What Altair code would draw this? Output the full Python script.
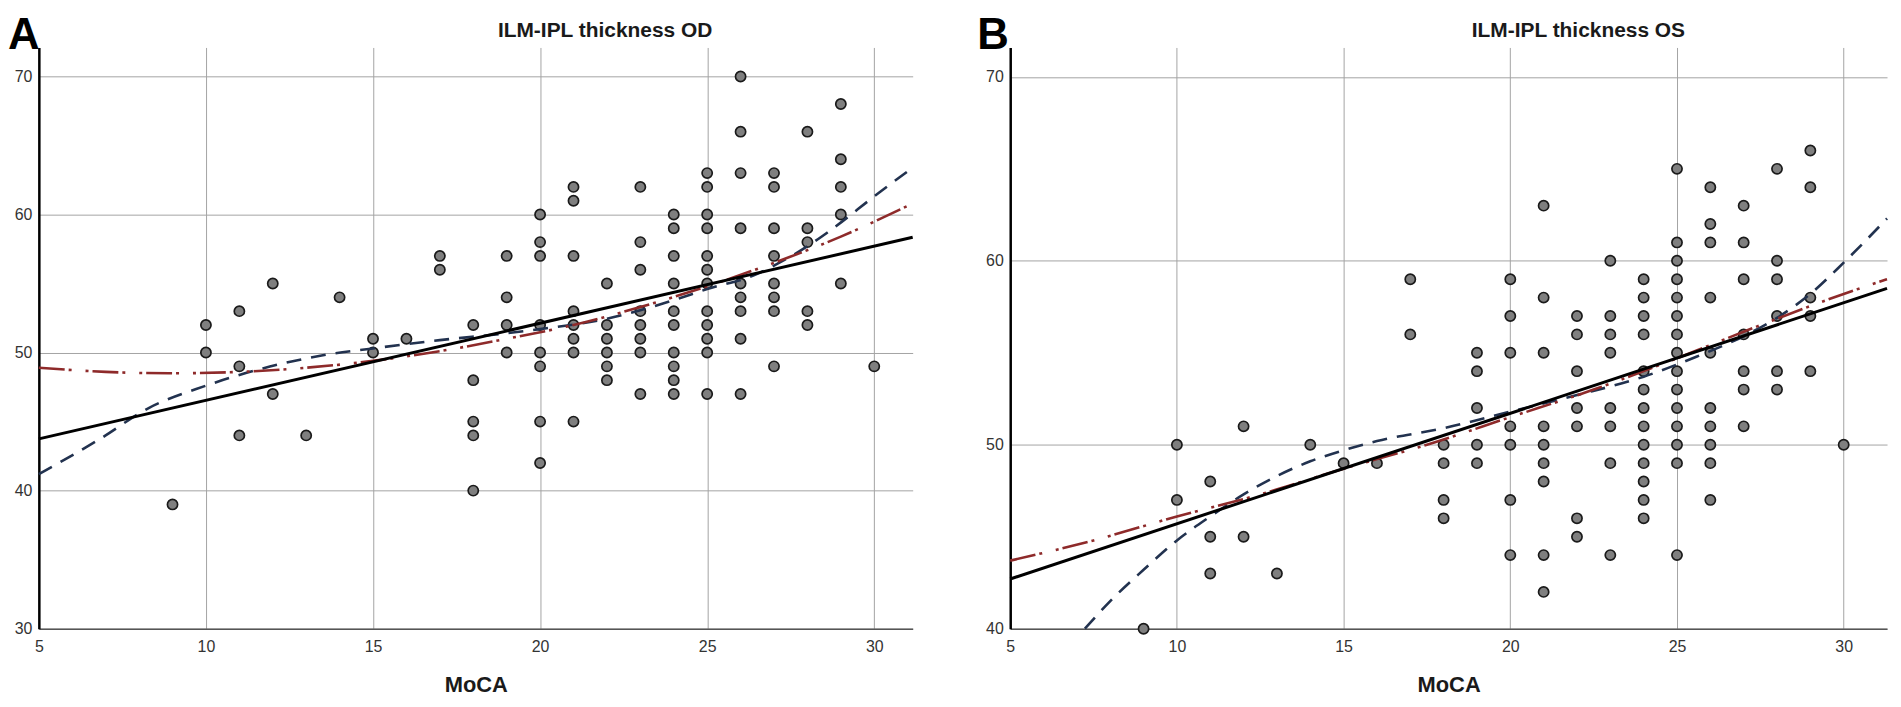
import altair as alt
import pandas as pd

FONT = "Liberation Sans"

# ---------- Panel A : ILM-IPL thickness OD ----------
od_moca = [9,
           10, 10,
           11, 11, 11,
           12, 12,
           13,
           14,
           15, 15,
           16,
           17, 17,
           18, 18, 18, 18, 18,
           19, 19, 19, 19,
           20, 20, 20, 20, 20, 20, 20, 20,
           21, 21, 21, 21, 21, 21, 21, 21,
           22, 22, 22, 22, 22, 22,
           23, 23, 23, 23, 23, 23, 23, 23,
           24, 24, 24, 24, 24, 24, 24, 24, 24, 24,
           25, 25, 25, 25, 25, 25, 25, 25, 25, 25, 25, 25,
           26, 26, 26, 26, 26, 26, 26, 26, 26,
           27, 27, 27, 27, 27, 27, 27, 27,
           28, 28, 28, 28, 28,
           29, 29, 29, 29, 29,
           30]
od_thick = [39,
            52, 50,
            53, 49, 44,
            55, 47,
            44,
            54,
            51, 50,
            51,
            57, 56,
            52, 48, 45, 44, 40,
            57, 54, 52, 50,
            60, 58, 57, 52, 50, 49, 45, 42,
            62, 61, 57, 53, 52, 51, 50, 45,
            55, 52, 51, 50, 49, 48,
            62, 58, 56, 53, 52, 51, 50, 47,
            60, 59, 57, 55, 53, 52, 50, 49, 48, 47,
            63, 62, 60, 59, 57, 56, 55, 53, 52, 51, 50, 47,
            70, 66, 63, 59, 55, 54, 53, 51, 47,
            63, 62, 59, 57, 55, 54, 53, 49,
            66, 59, 58, 53, 52,
            68, 64, 62, 60, 55,
            49]

# fit lines of panel A
od_lin_x = [5, 31.15]
od_lin_y = [43.75, 58.35]
od_quad_x = [5, 7, 9, 11, 13, 15, 17, 19, 21, 23, 25, 27, 29, 31.15]
od_quad_y = [48.9, 48.6, 48.5, 48.6, 48.9, 49.4, 50.1, 51.0, 52.0, 53.3, 54.8, 56.5, 58.4, 60.8]
od_cub_x = [5, 6.8, 8.3, 10, 11.7, 13.5, 15, 17, 19, 20, 22, 24, 25, 26.5, 27, 28, 28.6, 30.1, 31.15]
od_cub_y = [41.2, 43.7, 46.0, 47.6, 48.85, 49.8, 50.3, 50.9, 51.4, 51.7, 52.45, 53.8, 54.6, 55.7, 56.3, 57.7, 58.7, 61.5, 63.4]

# ---------- Panel B : ILM-IPL thickness OS ----------
os_moca = [9,
           10, 10,
           11, 11, 11,
           12, 12,
           13,
           14,
           15,
           16,
           17, 17,
           18, 18, 18, 18,
           19, 19, 19, 19, 19,
           20, 20, 20, 20, 20, 20, 20,
           21, 21, 21, 21, 21, 21, 21, 21, 21,
           22, 22, 22, 22, 22, 22, 22,
           23, 23, 23, 23, 23, 23, 23, 23,
           24, 24, 24, 24, 24, 24, 24, 24, 24, 24, 24, 24, 24,
           25, 25, 25, 25, 25, 25, 25, 25, 25, 25, 25, 25, 25, 25, 25,
           26, 26, 26, 26, 26, 26, 26, 26, 26, 26,
           27, 27, 27, 27, 27, 27, 27,
           28, 28, 28, 28, 28, 28,
           29, 29, 29, 29, 29,
           30]
os_thick = [40,
            50, 47,
            48, 45, 43,
            51, 45,
            43,
            50,
            49,
            49,
            59, 56,
            50, 49, 47, 46,
            55, 54, 52, 50, 49,
            59, 57, 55, 51, 50, 47, 44,
            63, 58, 55, 51, 50, 49, 48, 44, 42,
            57, 56, 54, 52, 51, 46, 45,
            60, 57, 56, 55, 52, 51, 49, 44,
            59, 58, 57, 56, 54, 53, 52, 51, 50, 49, 48, 47, 46,
            65, 61, 60, 59, 58, 57, 56, 55, 54, 53, 52, 51, 50, 49, 44,
            64, 62, 61, 58, 55, 52, 51, 50, 49, 47,
            63, 61, 59, 56, 54, 53, 51,
            65, 60, 59, 57, 54, 53,
            66, 64, 58, 57, 54,
            50]

os_lin_x = [5, 31.3]
os_lin_y = [42.7, 58.5]
os_quad_x = [5, 7.5, 10, 12.5, 15, 17.5, 20, 22.5, 25, 27.5, 30, 31.3]
os_quad_y = [43.7, 44.8, 46.1, 47.3, 48.7, 50.0, 51.5, 53.0, 54.7, 56.5, 58.2, 59.0]
os_cub_x = [7.24, 8, 9, 10, 11, 12, 13, 14, 15, 16, 18, 20, 22, 24, 25.6, 27, 28, 29, 30, 31.3]
os_cub_y = [40.0, 41.5, 43.2, 44.8, 46.1, 47.3, 48.3, 49.1, 49.7, 50.2, 50.9, 51.8, 52.7, 53.7, 54.8, 55.9, 56.9, 58.2, 59.9, 62.3]

x_ticks = [5, 10, 15, 20, 25, 30]


def panel(letter, letter_x, title, mx, ty, lin, quad, cub, ydom, yvals, xmax, width, height):
    xsc = alt.Scale(domain=[5, xmax], nice=False, zero=False)
    ysc = alt.Scale(domain=ydom, nice=False, zero=False)
    xax = alt.Axis(values=x_ticks, title="MoCA", grid=True, ticks=False,
                   labelPadding=10, titlePadding=20, domainColor="#555555",
                   domainWidth=1.5, labelFlush=False)
    yax = alt.Axis(values=yvals, title=None, grid=True, ticks=False,
                   labelPadding=7, domainColor="#000000", domainWidth=2.5)

    def X(field):
        return alt.X(field, type="quantitative", scale=xsc, axis=xax)

    def Y(field):
        return alt.Y(field, type="quantitative", scale=ysc, axis=yax)

    pts = alt.Chart(pd.DataFrame({"MoCA": mx, "v": ty})).mark_point(
        shape="circle", filled=True, size=105, fill="#7f7f7f",
        stroke="#1a1a1a", strokeWidth=1.7, opacity=1
    ).encode(x=X("MoCA"), y=Y("v"))

    cub_line = alt.Chart(pd.DataFrame({"MoCA": cub[0], "v": cub[1]})).mark_line(
        interpolate="monotone", color="#22324f", strokeWidth=2.6,
        strokeDash=[15, 10]
    ).encode(x=X("MoCA"), y=Y("v"), order="MoCA:Q")

    quad_line = alt.Chart(pd.DataFrame({"MoCA": quad[0], "v": quad[1]})).mark_line(
        interpolate="monotone", color="#8e2a2a", strokeWidth=2.6,
        strokeDash=[26, 4, 3, 14, 3, 4]
    ).encode(x=X("MoCA"), y=Y("v"), order="MoCA:Q")

    lin_line = alt.Chart(pd.DataFrame({"MoCA": lin[0], "v": lin[1]})).mark_line(
        color="#000000", strokeWidth=3
    ).encode(x=X("MoCA"), y=Y("v"))

    letter_txt = alt.Chart(pd.DataFrame({"t": [letter]})).mark_text(
        align="left", baseline="alphabetic", fontSize=44, fontWeight="bold",
        font=FONT, color="#000000"
    ).encode(x=alt.value(letter_x), y=alt.value(2), text="t:N")

    title_txt = alt.Chart(pd.DataFrame({"t": [title]})).mark_text(
        align="center", baseline="alphabetic", fontSize=21, fontWeight="bold",
        font=FONT, color="#1a1a1a"
    ).encode(x=alt.value(width * 0.648), y=alt.value(-11), text="t:N")

    return alt.layer(pts, cub_line, quad_line, lin_line, letter_txt, title_txt).properties(
        width=width, height=height
    )


A = panel("A", -31, "ILM-IPL thickness OD", od_moca, od_thick,
          (od_lin_x, od_lin_y), (od_quad_x, od_quad_y), (od_cub_x, od_cub_y),
          [30, 72.1], [30, 40, 50, 60, 70], 31.15, 878, 584)
B = panel("B", -33, "ILM-IPL thickness OS", os_moca, os_thick,
          (os_lin_x, os_lin_y), (os_quad_x, os_quad_y), (os_cub_x, os_cub_y),
          [40, 71.6], [40, 50, 60, 70], 31.3, 881, 584)

chart = alt.hconcat(A, B, spacing=59).properties(
    padding={"top": 5, "left": 0, "right": 0, "bottom": 0}
).configure_view(
    strokeWidth=0
).configure_axis(
    gridColor="#a3a3a3", gridWidth=1,
    labelFont=FONT, labelFontSize=16, labelColor="#333333",
    titleFont=FONT, titleFontSize=22, titleFontWeight="bold", titleColor="#1a1a1a"
)

chart.save("out.html", embed_options={"renderer": "svg", "actions": False})
